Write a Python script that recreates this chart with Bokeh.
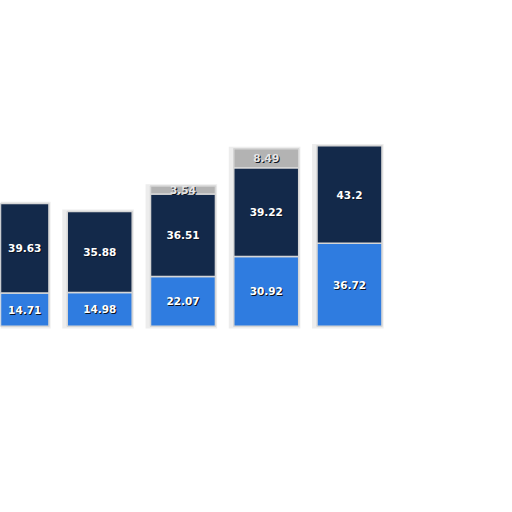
from bokeh.plotting import figure, ColumnDataSource
from bokeh.models import Range1d
from bokeh.core.properties import value
from bokeh.embed import file_html
from bokeh.resources import INLINE

# data
groups = [0, 1, 2, 3, 4]
base = [14.71, 14.98, 22.07, 30.92, 36.72]
middle = [39.63, 35.88, 36.51, 39.22, 43.2]
top = [0, 0, 3.54, 8.49, 0]

colors = {'base': '#2f7ce0', 'middle': '#13294a', 'top': '#b3b3b3'}
labels = {'base': '#ffffff', 'middle': '#ffffff', 'top': '#e6e6e6'}

X0, X1 = -0.192, 5.766
BAR_W = 0.78

p = figure(
    width=496, height=496,
    output_backend="svg", toolbar_location=None,
    x_range=Range1d(X0, X1), y_range=Range1d(-75.3, 144.2),
    min_border=0,
)
p.axis.visible = False
p.grid.visible = False
p.outline_line_color = None
p.background_fill_color = 'white'

# soft shadow behind each bar
shadow = ColumnDataSource(data={
    'x': [g - 0.02 for g in groups],
    'top': [b + m + t + 0.8 for b, m, t in zip(base, middle, top)],
})
p.vbar(x='x', top='top', bottom=-1.0, width=0.86, source=shadow,
       fill_color='#dedede', fill_alpha=0.55, line_color=None)


def label_x(g):
    # keep labels inside the visible part of a bar cut by the left edge
    left = max(g - BAR_W / 2, X0)
    return (left + g + BAR_W / 2) / 2


bottoms = [0] * len(groups)
for key, vals in [('base', base), ('middle', middle), ('top', top)]:
    xs = [g for g, v in zip(groups, vals) if v > 0]
    lo = [b for b, v in zip(bottoms, vals) if v > 0]
    hi = [b + v for b, v in zip(bottoms, vals) if v > 0]
    txt = [f'{v:g}' for v in vals if v > 0]
    src = ColumnDataSource(data={
        'x': xs, 'bottom': lo, 'top': hi, 'txt': txt,
        'lx': [label_x(g) for g in xs],
        'mid': [(a + b) / 2 for a, b in zip(lo, hi)],
    })
    p.vbar(x='x', bottom='bottom', top='top', width=BAR_W, source=src,
           fill_color=colors[key], line_color='#d6d6d6', line_width=1.5)
    p.text(x='lx', y='mid', text='txt', source=src,
           x_offset=1, y_offset=1,
           text_align='center', text_baseline='middle',
           text_font=value('DejaVu Sans'), text_font_style='bold',
           text_font_size='10.5px', text_color='#0a1222')
    p.text(x='lx', y='mid', text='txt', source=src,
           text_align='center', text_baseline='middle',
           text_font=value('DejaVu Sans'), text_font_style='bold',
           text_font_size='10.5px', text_color=labels[key])
    bottoms = [b + v for b, v in zip(bottoms, vals)]

open("out.html", "w").write(file_html(p, INLINE))
